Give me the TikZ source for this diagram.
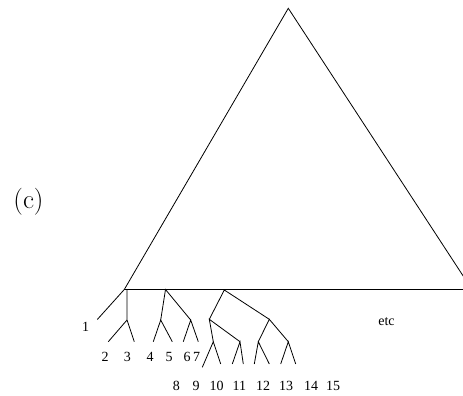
\documentclass[tikz,border=0pt]{standalone}
\usepackage{fontspec}
\newfontfamily\lbl{Liberation Serif}
\begin{document}
\begin{tikzpicture}[x=1pt,y=-1pt,line width=0.8pt,
  lab/.style={font=\lbl\fontsize{14}{16}\selectfont,inner sep=0pt},
  big/.style={font=\fontsize{27}{32}\selectfont,inner sep=0pt}]
\useasboundingbox (0,0) rectangle (463,396);
% triangle
\coordinate (apex) at (288.3,8.3);
\coordinate (L) at (124.3,289.5);
\coordinate (R) at (472,289.5);
\coordinate (E) at (463,289.5);
\begin{scope}
\clip (0,0) rectangle (463,396);
\draw (L) -- (apex) -- (R);
\draw (L) -- (E);
\end{scope}
\node[big] (c) at (28.5,202) {(c)};
\node[lab] (etc) at (386.5,322) {etc};
% tree 1
\coordinate (t1) at (97.3,319.5);
\draw (L) -- (t1);
\node[lab] (n1) at (85.7,326.5) {1};
\coordinate (a) at (127,290);
\coordinate (a1) at (127,320);
\coordinate (a2) at (108.3,341.7);
\coordinate (a3) at (134.3,341.7);
\draw (a) -- (a1) (a2) -- (a1) -- (a3);
\node[lab] (n2) at (105,356.5) {2};
\node[lab] (n3) at (127.3,356.5) {3};
% tree 2
\coordinate (b) at (165.5,289.5);
\coordinate (b1) at (160.7,320);
\coordinate (b2) at (190.7,320);
\coordinate (b11) at (153.3,341.7);
\coordinate (b12) at (172.3,341.7);
\coordinate (b21) at (183.3,341.7);
\coordinate (b22) at (198.3,341.7);
\draw (b1) -- (b) -- (b2);
\draw (b11) -- (b1) -- (b12);
\draw (b21) -- (b2) -- (b22);
\node[lab] (n4) at (150,356.5) {4};
\node[lab] (n5) at (169,356.5) {5};
\node[lab] (n6) at (187.2,356.5) {6};
\node[lab] (n7) at (196.5,356.5) {7};
% tree 3
\coordinate (d) at (224.3,290);
\coordinate (dl) at (209.3,319.3);
\coordinate (dr) at (269.3,319.3);
\coordinate (dll) at (213.3,341.7);
\coordinate (dlr) at (240,341.7);
\coordinate (drl) at (258.3,341.7);
\coordinate (drr) at (288.3,341.7);
\coordinate (x1) at (202.3,367.3);
\coordinate (x2) at (220.7,364);
\coordinate (x3) at (232.3,364);
\coordinate (x4) at (243.3,364);
\coordinate (x5) at (254.3,364);
\coordinate (x6) at (269.3,364);
\coordinate (x7) at (280.7,364);
\coordinate (x8) at (295.7,364);
\draw (dl) -- (d) -- (dr);
\draw (dll) -- (dl) -- (dlr);
\draw (drl) -- (dr) -- (drr);
\draw (x1) -- (dll) -- (x2);
\draw (x3) -- (dlr) -- (x4);
\draw (x5) -- (drl) -- (x6);
\draw (x7) -- (drr) -- (x8);
\node[lab] (n8) at (176.3,386) {8};
\node[lab] (n9) at (196,386) {9};
\node[lab] (n10) at (216.5,386) {10};
\node[lab] (n11) at (239.3,386) {11};
\node[lab] (n12) at (263,386) {12};
\node[lab] (n13) at (286,386) {13};
\node[lab] (n14) at (311,386) {14};
\node[lab] (n15) at (333,386) {15};
\end{tikzpicture}
\end{document}
